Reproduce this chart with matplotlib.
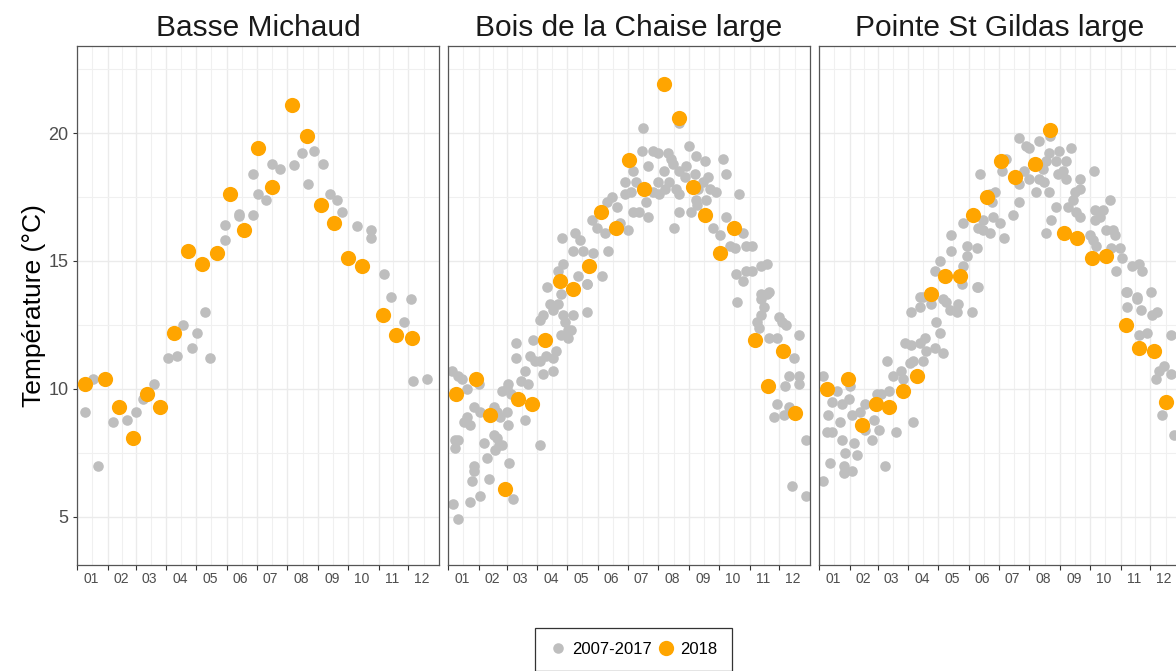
import matplotlib
matplotlib.use("Agg")
import matplotlib.pyplot as plt
from matplotlib.lines import Line2D

plt.rcParams['font.family'] = ['Liberation Sans', 'DejaVu Sans']

# ---------------- data (day of year, temperature °C) ----------------
stations = ["Basse Michaud", "Bois de la Chaise large", "Pointe St Gildas large"]
month_labels = ["01", "02", "03", "04", "05", "06", "07", "08", "09", "10", "11", "12"]
month_start_days = [1, 32, 60, 91, 121, 152, 182, 213, 244, 274, 305, 335]
y_ticks = [5, 10, 15, 20]
legend_labels = ["2007-2017", "2018"]

bm_hist_day = [178, 184, 192, 198, 206, 220, 228, 240, 234, 249, 256, 263, 268, 164, 164, 178,
               150, 150, 283, 297, 297, 311, 318, 338, 331, 340, 354, 130, 108, 122, 117, 102,
               93, 135, 79, 68, 60, 51, 37, 9, 17, 22]
bm_hist_temp = [18.4, 17.6, 17.4, 18.8, 18.6, 18.75, 19.2, 19.3, 18.0, 18.8, 17.6, 17.4, 16.9, 16.85, 16.75, 16.8,
                16.4, 15.8, 16.35, 16.2, 15.9, 14.5, 13.6, 13.5, 12.6, 10.3, 10.4, 13.0, 12.5, 12.2, 11.6, 11.3,
                11.2, 11.2, 10.2, 9.6, 9.1, 8.8, 8.7, 9.1, 10.4, 7.0]
bm_2018_day = [9, 29, 43, 57, 72, 85, 99, 113, 127, 142, 155, 169, 184, 198, 218, 233, 247, 260,
               274, 288, 310, 323, 339]
bm_2018_temp = [10.2, 10.4, 9.3, 8.1, 9.8, 9.3, 12.2, 15.4, 14.9, 15.3, 17.6, 16.2, 19.4, 17.9, 21.1, 19.9, 17.2, 16.5,
                15.1, 14.8, 12.9, 12.1, 12.0]

bc_hist_day = [198, 234, 244, 197, 208, 213, 223, 226, 228, 251, 260, 278, 203, 241, 250, 281, 263, 188,
               219, 234, 240, 179, 191, 213, 224, 258, 186, 208, 220, 231, 234, 253, 265, 271, 294, 166,
               179, 201, 214, 251, 261, 161, 171, 188, 194, 203, 234, 246, 252, 146, 151, 159, 162, 174,
               182, 229, 268, 275, 281, 285, 290, 298, 301, 308, 116, 129, 134, 127, 137, 147, 117, 112,
               132, 141, 156, 101, 115, 291, 298, 301, 308, 317, 323, 317, 325,
               141, 104, 112, 107, 117, 127, 119, 94, 97, 141, 122, 125, 115, 122, 70, 87, 70, 84,
               94, 89, 100, 107, 110, 79, 75, 82, 97, 107, 5, 11, 15, 20, 32, 55, 62, 60, 65,
               27, 33, 20, 17, 23, 47, 50, 53, 60, 62, 79, 8, 11, 8, 37, 47, 50, 52, 55, 48, 40,
               94, 27, 27, 25, 42, 63, 6, 11, 23, 33, 67,
               292, 317, 320, 323, 317, 313, 315, 325, 333, 335, 338, 342, 355, 350, 345, 355, 355,
               341, 333, 330, 340, 345, 362, 348, 362]
bc_hist_temp = [20.2, 20.4, 19.5, 19.3, 19.3, 19.2, 19.2, 19.0, 18.8, 19.1, 18.9, 19.0, 18.7, 18.7, 18.4, 18.4, 18.3, 18.5,
                18.5, 18.5, 18.3, 18.1, 18.1, 18.1, 18.1, 18.1, 17.7, 17.7, 17.8, 17.8, 17.6, 17.8, 17.8, 17.7, 17.6, 17.5,
                17.6, 17.3, 17.6, 17.4, 17.4, 17.3, 17.1, 16.9, 16.9, 16.7, 16.9, 16.9, 17.2, 16.6, 16.3, 16.1, 15.4, 16.5,
                16.2, 16.3, 16.3, 16.0, 16.7, 15.6, 15.5, 16.1, 15.6, 15.6, 15.9, 16.1, 15.8, 15.4, 15.4, 15.3, 14.9, 14.6,
                14.4, 14.1, 14.4, 14.0, 13.7, 14.5, 14.2, 14.6, 14.6, 14.8, 14.9, 13.7, 13.8,
                14.1, 13.3, 13.3, 13.1, 12.9, 12.9, 12.6, 12.7, 12.9, 13.0, 12.3, 12.3, 12.1, 12.0, 11.8, 11.9, 11.2, 11.3,
                11.1, 11.1, 11.3, 11.2, 11.5, 10.7, 10.3, 10.2, 10.6, 10.7, 10.7, 10.5, 10.4, 10.0, 10.2, 9.9, 10.2, 10.0, 9.8,
                9.3, 9.1, 8.9, 8.7, 8.6, 9.3, 9.1, 8.9, 9.1, 8.6, 8.8, 8.0, 8.0, 7.7, 7.9, 8.2, 8.1, 7.8, 7.8, 7.6, 7.3,
                7.8, 7.0, 6.8, 6.4, 6.5, 7.1, 5.5, 4.9, 5.6, 5.8, 5.7,
                13.4, 13.5, 13.2, 13.7, 12.9, 12.6, 12.4, 12.0, 12.0, 12.8, 12.6, 12.5, 12.1, 11.2, 10.5, 10.5, 10.2,
                10.1, 9.4, 8.9, 9.0, 9.3, 8.0, 6.2, 5.8]
bc_2018_day = [9, 29, 43, 58, 72, 86, 99, 114, 127, 143, 155, 170, 184, 199, 219, 234, 248, 260,
               275, 289, 311, 324, 339, 351]
bc_2018_temp = [9.8, 10.4, 9.0, 6.1, 9.6, 9.4, 11.9, 14.2, 13.9, 14.8, 16.9, 16.3, 18.95, 17.8, 21.9, 20.6, 17.9, 16.8,
                15.3, 16.3, 11.9, 10.1, 11.5, 9.05]

sg_hist_day = [203, 223, 210, 213, 234, 255, 243, 233, 240, 250, 230, 190, 163, 186, 208, 227, 247, 250,
               264, 278, 213, 223, 228, 242, 264, 259, 220, 233, 203, 178, 173, 257, 252, 240, 294, 203,
               235, 230, 260, 264, 279, 284, 287, 279, 290, 297, 299, 274, 277, 280, 295, 304, 307, 300,
               317, 324, 327, 312, 322, 336,
               175, 166, 176, 183, 197, 146, 166, 173, 188, 161, 160, 150, 150, 134, 134, 146, 161, 123,
               118, 126, 103, 145,
               5, 19, 14, 24, 31, 32, 10, 9, 14, 22, 24, 27, 12, 26, 26, 34, 5, 36, 39, 34, 42, 47, 47,
               54, 62, 56, 59, 64, 72, 79, 68, 70, 76, 84, 86, 88, 94, 93, 103, 108, 109, 106, 118, 96,
               94, 103, 106, 114, 119, 123, 126, 96, 129, 133, 141, 140, 155, 160,
               311, 312, 322, 326, 337, 342, 324, 332, 344, 349, 341, 356, 356, 347, 359]
sg_hist_temp = [19.8, 19.7, 19.5, 19.4, 19.9, 19.4, 19.3, 19.2, 18.9, 18.9, 18.9, 19.0, 18.4, 18.5, 18.5, 18.6, 18.5, 18.2,
                18.2, 18.5, 18.2, 18.2, 18.1, 18.4, 17.8, 17.7, 17.7, 17.7, 18.0, 17.7, 17.6, 17.4, 17.1, 17.1, 17.4, 17.3,
                16.6, 16.1, 16.9, 16.7, 17.0, 16.7, 17.0, 16.6, 16.2, 16.2, 16.0, 16.0, 15.8, 15.6, 15.5, 15.5, 15.1, 14.6,
                14.8, 14.9, 14.6, 13.8, 13.6, 13.8,
                17.3, 16.6, 16.7, 16.5, 16.8, 16.5, 16.2, 16.1, 15.9, 16.3, 15.5, 15.6, 15.2, 16.0, 15.4, 14.8, 14.0, 15.0,
                14.6, 13.5, 13.6, 14.1,
                10.5, 9.9, 9.5, 9.4, 9.6, 10.1, 9.0, 8.3, 8.3, 8.7, 8.0, 7.5, 7.1, 7.0, 6.7, 6.8, 6.4, 7.9, 7.4, 9.0, 9.1, 9.4, 8.4,
                8.0, 8.4, 8.8, 9.8, 9.8, 9.9, 8.3, 7.0, 11.1, 10.5, 10.7, 10.4, 11.8, 11.7, 11.0, 11.8, 12.0, 11.5, 11.1, 11.6, 11.1,
                13.0, 13.2, 13.6, 13.3, 12.6, 12.2, 11.4, 8.7, 13.4, 13.1, 13.3, 13.0, 13.0, 14.0,
                13.8, 13.2, 13.5, 13.1, 12.9, 13.0, 12.1, 12.2, 10.7, 10.9, 10.4, 10.6, 12.1, 9.0, 8.2]
sg_2018_day = [9, 30, 44, 58, 72, 86, 100, 114, 128, 143, 156, 170, 185, 199, 219, 234, 248, 261,
               276, 290, 311, 324, 339, 351]
sg_2018_temp = [10.0, 10.4, 8.6, 9.4, 9.3, 9.9, 10.5, 13.7, 14.4, 14.4, 16.8, 17.5, 18.9, 18.3, 18.8, 20.1, 16.1, 15.9,
                15.1, 15.2, 12.5, 11.6, 11.5, 9.5]

hist_days = [bm_hist_day, bc_hist_day, sg_hist_day]
hist_temps = [bm_hist_temp, bc_hist_temp, sg_hist_temp]
y2018_days = [bm_2018_day, bc_2018_day, sg_2018_day]
y2018_temps = [bm_2018_temp, bc_2018_temp, sg_2018_temp]

# ---------------- styling ----------------
GREY = "#BEBEBE"
ORANGE = "#FFA500"
W, H = 1176, 671
fig = plt.figure(figsize=(W / 100, H / 100), dpi=100)

panel_left = [77, 448, 819]
panel_w, panel_top, panel_bottom = 362, 46, 565

minor_x = [(month_start_days[i] + month_start_days[i + 1]) / 2 for i in range(11)] + [350.5]
label_x = [d + 14 for d in month_start_days]

for i, name in enumerate(stations):
    ax = fig.add_axes([panel_left[i] / W, 1 - panel_bottom / H,
                       panel_w / W, (panel_bottom - panel_top) / H])
    ax.set_xlim(1, 366)
    ax.set_ylim(3.12, 23.4)

    # grid lines
    for d in month_start_days:
        ax.axvline(d, color="#EBEBEB", lw=1.0, zorder=0)
    for d in minor_x:
        ax.axvline(d, color="#F0F0F0", lw=0.8, zorder=0)
    for t in y_ticks:
        ax.axhline(t, color="#EBEBEB", lw=1.0, zorder=0)
    for t in [7.5, 12.5, 17.5, 22.5]:
        ax.axhline(t, color="#F0F0F0", lw=0.8, zorder=0)

    ax.scatter(hist_days[i], hist_temps[i], s=58, color=GREY, linewidths=0, zorder=2)
    ax.scatter(y2018_days[i], y2018_temps[i], s=120, color=ORANGE, linewidths=0, zorder=3)

    # x axis: ticks at month starts, labels mid-month
    ax.set_xticks(month_start_days)
    ax.set_xticklabels([])
    ax.set_xticks(label_x, minor=True)
    ax.set_xticklabels(month_labels, minor=True)
    ax.tick_params(axis="x", which="major", length=3.5, width=0.8, color="#333333")
    ax.tick_params(axis="x", which="minor", length=0, pad=5, labelsize=10, labelcolor="#4D4D4D")

    ax.set_yticks(y_ticks)
    if i == 0:
        ax.set_yticklabels([str(t) for t in y_ticks])
        ax.tick_params(axis="y", length=3, width=0.8, color="#333333", labelsize=13,
                       labelcolor="#4D4D4D", pad=3)
        ax.set_ylabel("Température (°C)", fontsize=19, color="black")
        ax.yaxis.set_label_coords(-0.085, 0.5)
    else:
        ax.set_yticklabels([])
        ax.tick_params(axis="y", length=0)

    for sp in ax.spines.values():
        sp.set_color("#555555")
        sp.set_linewidth(0.9)

    ax.set_title(name, fontsize=21.5, color="#1A1A1A", pad=7)

handles = [Line2D([0], [0], marker="o", linestyle="none", markersize=7.6,
                  markerfacecolor=GREY, markeredgewidth=0),
           Line2D([0], [0], marker="o", linestyle="none", markersize=11,
                  markerfacecolor=ORANGE, markeredgewidth=0)]
leg = fig.legend(handles, legend_labels, loc="upper left",
                 bbox_to_anchor=(535 / W, 1 - 628 / H), borderaxespad=0, ncol=2, fontsize=12,
                 frameon=True, fancybox=False, edgecolor="#333333", framealpha=1,
                 borderpad=0.85, handlelength=1.0, handletextpad=0.35, columnspacing=0.4)
leg.get_frame().set_linewidth(0.9)

fig.savefig("out.png", dpi=100)
